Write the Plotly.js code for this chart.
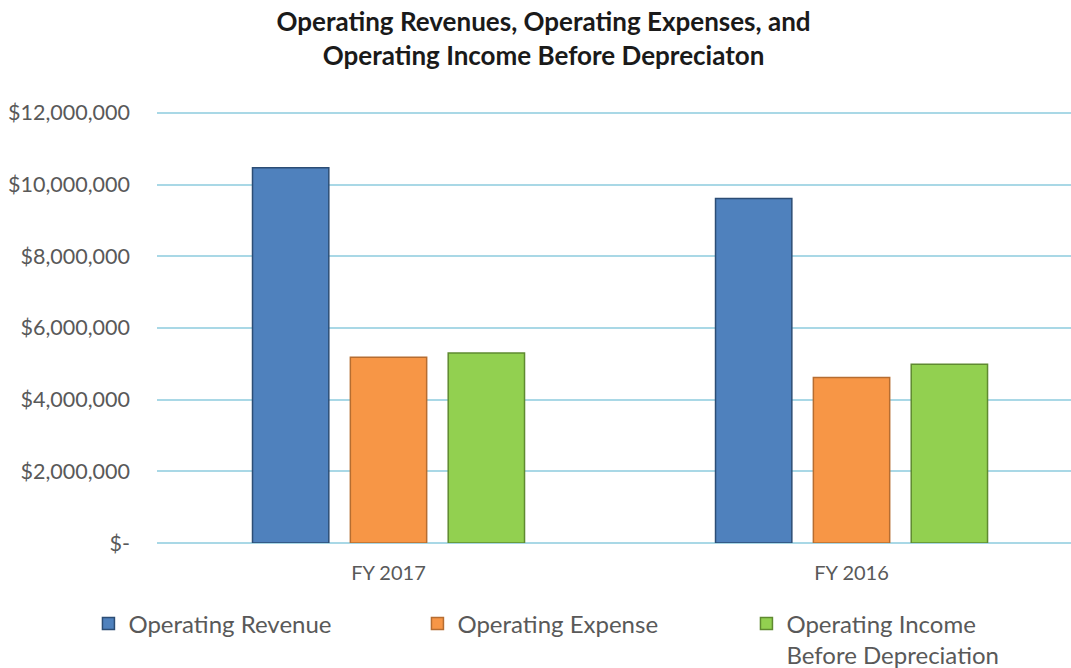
<!DOCTYPE html>
<html>
<head>
<meta charset="utf-8">
<script src="https://cdn.plot.ly/plotly-3.0.1.min.js"></script>
<style>html,body{margin:0;padding:0;background:#fff;}#chart{width:1071px;height:668px;}</style>
</head>
<body>
<div id="chart"></div>
<script>
const categories = ["FY 2017", "FY 2016"];
const seriesNames = ["Operating Revenue", "Operating Expense", "Operating Income<br>Before Depreciation"];
const operatingRevenue = [10470000, 9610000];
const operatingExpense = [5180000, 4620000];
const operatingIncome = [5300000, 4990000];
const yTickVals = [0, 2000000, 4000000, 6000000, 8000000, 10000000, 12000000];
const yTickText = ["$-", "$2,000,000", "$4,000,000", "$6,000,000", "$8,000,000", "$10,000,000", "$12,000,000"];

const colors = ["#4f81bd", "#f79646", "#92d050"];
const edges = ["#2c4d75", "#b66d31", "#5f8a30"];
const values = [operatingRevenue, operatingExpense, operatingIncome];

const traces = values.map((v, i) => ({
  type: "bar",
  x: categories,
  y: v,
  name: seriesNames[i],
  marker: { color: colors[i], line: { color: edges[i], width: 1.5 } },
  hoverinfo: "x+y+name"
}));

const layout = {
  width: 1071,
  height: 668,
  paper_bgcolor: "#ffffff",
  plot_bgcolor: "#ffffff",
  font: { family: "Lato, 'Open Sans', sans-serif", color: "#595959" },
  title: {
    text: "Operating Revenues, Operating Expenses, and<br>Operating Income Before Depreciaton",
    font: { family: "Lato, sans-serif", size: 26, color: "#1a1a1a", weight: "bold" },
    xref: "container", x: 0.5075, xanchor: "center",
    yref: "container", y: 0.953, yanchor: "middle"
  },
  margin: { l: 157, r: 0, t: 110, b: 125, pad: 0, autoexpand: false },
  barmode: "group",
  bargap: 0.366,
  bargroupgap: 0.22,
  xaxis: {
    type: "category",
    range: [-0.5, 1.474],
    showgrid: false,
    showline: false,
    zeroline: false,
    ticks: "",
    tickfont: { size: 20, color: "#595959" },
    ticklabelstandoff: 16
  },
  yaxis: {
    range: [0, 12080000],
    tickvals: yTickVals,
    ticktext: yTickText,
    showgrid: true,
    gridcolor: "#a9d8e6",
    gridwidth: 2,
    zeroline: true,
    zerolinecolor: "#a9d8e6",
    zerolinewidth: 2,
    showline: false,
    ticks: "",
    tickfont: { size: 21.5, color: "#595959" },
    ticklabelstandoff: 26
  },
  showlegend: true,
  legend: {
    orientation: "h",
    x: -0.075, xanchor: "left",
    y: -0.135, yanchor: "top",
    entrywidth: 284, entrywidthmode: "pixels",
    valign: "top",
    font: { size: 24, color: "#595959" },
    traceorder: "normal",
    bgcolor: "rgba(0,0,0,0)"
  }
};

Plotly.newPlot("chart", traces, layout, { displayModeBar: false, staticPlot: true });
</script>
</body>
</html>
